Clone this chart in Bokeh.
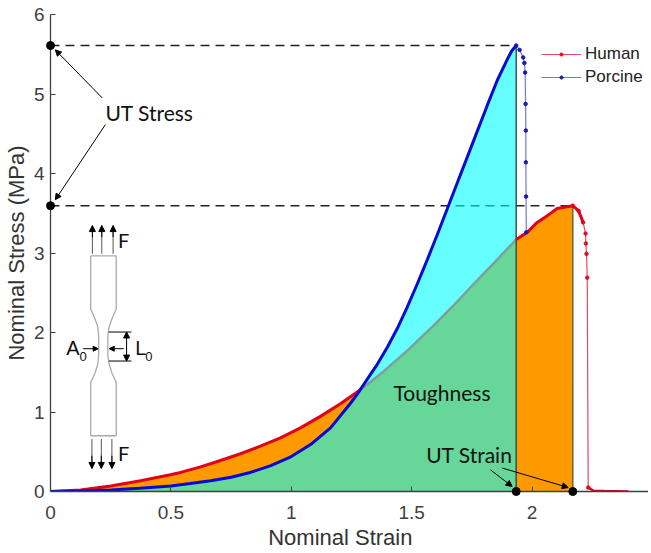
import numpy as np
from bokeh.plotting import figure
from bokeh.embed import file_html
from bokeh.resources import INLINE
from bokeh.core.properties import value
from bokeh.models import Arrow, NormalHead, Legend, LegendItem, FixedTicker

human_strain = [0, .125, .25, .374, .498, .54, .623, .706, .789, .872, .955, 1.038, 1.121, 1.204, 1.287, 1.383, 1.481,
                1.578, 1.674, 1.757, 1.84, 1.934, 1.98, 2.021, 2.063, 2.104, 2.169, 2.193, 2.212, 2.222, 2.223, 2.226,
                2.229, 2.233, 2.255, 2.30, 2.40]
human_stress = [0, .02, .07, .135, .21, .24, .31, .39, .475, .57, .675, .80, .945, 1.105, 1.28, 1.51, 1.77,
                2.05, 2.34, 2.61, 2.87, 3.17, 3.26, 3.385, 3.47, 3.56, 3.595, 3.53, 3.385, 3.245, 3.12, 2.99,
                2.69, .05, .01, .005, 0]
porcine_strain = [0, .125, .25, .37, .50, .58, .665, .75, .83, .915, 1.0, 1.08, 1.163, 1.246, 1.274, 1.315, 1.357,
                  1.40, 1.44, 1.48, 1.523, 1.564, 1.606, 1.647, 1.689, 1.73, 1.772, 1.813, 1.855, 1.896, 1.915, 1.934,
                  1.948, 1.963, 1.968, 1.971, 1.973, 1.974, 1.974, 1.975, 1.976]
porcine_stress = [0, .005, .02, .04, .07, .10, .135, .18, .24, .325, .44, .59, .80, 1.11, 1.225, 1.41, 1.60,
                  1.82, 2.05, 2.31, 2.61, 2.91, 3.23, 3.55, 3.88, 4.20, 4.53, 4.85, 5.17, 5.43, 5.54, 5.61,
                  5.555, 5.46, 5.39, 5.27, 4.875, 4.54, 4.14, 3.71, 3.26]
x_ticks = [0, .5, 1, 1.5, 2]
y_ticks = [0, 1, 2, 3, 4, 5, 6]

spec_x = [.167, .167, .185, .197, .20, .20, .197, .185, .167, .167, .273, .273, .255, .243, .238, .238, .243, .255, .273, .273, .167]
spec_y = [2.963, 2.296, 2.17, 2.064, 1.95, 1.72, 1.607, 1.49, 1.372, .701, .701, 1.372, 1.49, 1.607, 1.72, 1.95, 2.064, 2.17, 2.296, 2.963, 2.963]
force_up_x = [.174, .213, .26]
force_down_x = [.172, .211, .255]

hs, hy, ps, py = map(np.array, (human_strain, human_stress, porcine_strain, porcine_stress))
ih, ip = int(np.argmax(hy)), int(np.argmax(py))
uts_h, utn_h, uts_p, utn_p = hy[ih], hs[ih], py[ip], ps[ip]

p = figure(frame_width=598, frame_height=477, width=640, height=545, x_range=(0, 598 / 240.8), y_range=(0, 6),
           output_backend="svg", toolbar_location=None, min_border_left=42, min_border_right=0,
           min_border_top=14, min_border_bottom=54, x_axis_label="Nominal Strain\u00a0\u00a0\u00a0",
           y_axis_label="Nominal Stress (MPa)")
p.grid.visible = False
p.outline_line_color = None
for ax, ticks in ((p.xaxis[0], x_ticks), (p.yaxis[0], y_ticks)):
    ax.ticker = FixedTicker(ticks=ticks)
    ax.axis_line_color = "#404040"
    ax.axis_line_width = 1.3
    ax.major_tick_line_color = "#404040"
    ax.major_tick_in = 5
    ax.major_tick_out = 0
    ax.minor_tick_line_color = None
    ax.major_label_text_font = "Liberation Sans"
    ax.major_label_text_font_size = "19px"
    ax.major_label_text_color = "#404040"
    ax.axis_label_text_font = "Liberation Sans"
    ax.axis_label_text_font_size = "22px"
    ax.axis_label_text_font_style = "normal"
    ax.axis_label_text_color = "#333333"
p.xaxis[0].major_label_standoff = 14
p.xaxis[0].axis_label_standoff = 3
p.yaxis[0].major_label_standoff = 6
p.yaxis[0].axis_label_standoff = 2
p.yaxis[0].major_label_orientation = "horizontal"

# dashed guides sit beneath the translucent cyan
p.line([0, utn_p], [uts_p, uts_p], line_color="#222222", line_width=1.5, line_dash="9 6")
p.line([0, utn_h], [uts_h, uts_h], line_color="#222222", line_width=1.5, line_dash="9 6")

grid = np.unique(np.concatenate((hs[:ih + 1], ps[:ip + 1])))
h_on = np.interp(grid, hs[:ih + 1], hy[:ih + 1])
p_on = np.interp(grid, ps[:ip + 1], py[:ip + 1])
first = np.argmax(grid > .3)
cross = grid[first:][np.argmax(p_on[first:] >= h_on[first:])]
m = grid <= cross
p.varea(grid[m], p_on[m], h_on[m], fill_color="#FF9900")
m = grid <= utn_p
p.varea(grid[m], 0, np.minimum(h_on, p_on)[m], fill_color="#66D699")
m = (grid >= utn_p) & (grid <= utn_h)
p.varea(grid[m], 0, h_on[m], fill_color="#FF9900")
m = (grid >= cross) & (grid <= utn_p)
p.varea(grid[m], h_on[m], p_on[m], fill_color="#00FFFF", fill_alpha=.6)
p.line(grid[m], h_on[m], line_color="#7f9f9a", line_width=2.5)

p.line([utn_p, utn_p], [0, uts_p], line_color="#2f4a44", line_width=1.4)
p.line([utn_h, utn_h], [0, uts_h], line_color="#6b5a3a", line_width=1.4)

# thin tails with markers, thick where the samples are dense
th = p.line(hs[ih:], hy[ih:], line_color="#e8485a", line_width=1.2)
dh = p.scatter(hs[ih:-3], hy[ih:-3], size=3.5, color="#dd1122")
m = hs <= cross
p.line(hs[m], hy[m], line_color="#e3001b", line_width=3)
m = (hs >= utn_p) & (hs <= 2.215)
p.line(hs[m], hy[m], line_color="#e3001b", line_width=3)
m = hs >= 2.233
p.line(hs[m], hy[m], line_color="#e3001b", line_width=2.5)
tp = p.line(ps[ip:], py[ip:], line_color="#7777cc", line_width=1.2)
dp = p.scatter(ps[ip:], py[ip:], size=3.5, color="#1a1ab0")
p.line(ps[:ip + 1], py[:ip + 1], line_color="#0a0ad0", line_width=3)

p.scatter([0, 0], [uts_p, uts_h], size=8, color="black", level="overlay")
p.scatter([utn_p, utn_h], [0, 0], size=8, color="black", level="overlay")

def arrow(x0, y0, x1, y1, size=6, both=False, lw=1.0):
    head = lambda: NormalHead(size=size, fill_color="black", line_color="black", line_width=1)
    p.add_layout(Arrow(x_start=x0, y_start=y0, x_end=x1, y_end=y1, line_color="black", line_width=lw,
                       end=head(), start=head() if both else None))

arrow(.215, 4.95, .02, 5.555)
arrow(.228, 4.615, .02, 3.67)
arrow(1.827, .273, 1.917, .063)
arrow(1.876, .295, 2.15, .05)

p.line(spec_x, spec_y, line_color="#aaaaaa", line_width=1.3)
for fx in force_up_x:
    p.line([fx, fx], [2.99, 3.345], line_color="#555555", line_width=1)
    arrow(fx, 3.2, fx, 3.345, size=6)
for fx in force_down_x:
    p.line([fx, fx], [.66, .29], line_color="#555555", line_width=1)
    arrow(fx, .45, fx, .29, size=6)
p.line([.242, .336], [2.006, 2.006], line_color="black", line_width=1)
p.line([.242, .336], [1.641, 1.641], line_color="black", line_width=1)
arrow(.316, 1.83, .316, 2.006, size=6)
arrow(.316, 1.83, .316, 1.641, size=6)
arrow(.136, 1.796, .198, 1.796, size=5)
arrow(.304, 1.796, .244, 1.796, size=5)

def label(x, y, s, font, size, color="#111111"):
    p.text([x], [y], text=[s], text_font=value(font), text_font_size=size, text_color=color,
           text_baseline="middle", text_align="left")

label(.228, 4.77, "UT Stress", "Lato", "21px")
label(1.424, 1.24, "Toughness", "Lato", "21px")
label(1.56, .47, "UT Strain", "Lato", "21px")
label(.28, 3.16, "F", "Lato", "20px")
label(.28, .49, "F", "Lato", "20px")
label(.065, 1.80, "A", "Liberation Sans", "20px")
label(.12, 1.70, "0", "Liberation Sans", "13px")
label(.352, 1.80, "L", "Liberation Sans", "20px")
label(.393, 1.70, "0", "Liberation Sans", "13px")

leg = Legend(items=[LegendItem(label="Human", renderers=[th, dh]), LegendItem(label="Porcine", renderers=[tp, dp])],
             location=(491, 404), border_line_color=None, background_fill_alpha=0,
             label_text_font="Liberation Sans", label_text_font_size="17px", label_text_color="#222222",
             glyph_width=40, glyph_height=8, spacing=3, padding=0, margin=0, label_standoff=4)
p.add_layout(leg, "center")

open("out.html", "w").write(file_html(p, INLINE))
